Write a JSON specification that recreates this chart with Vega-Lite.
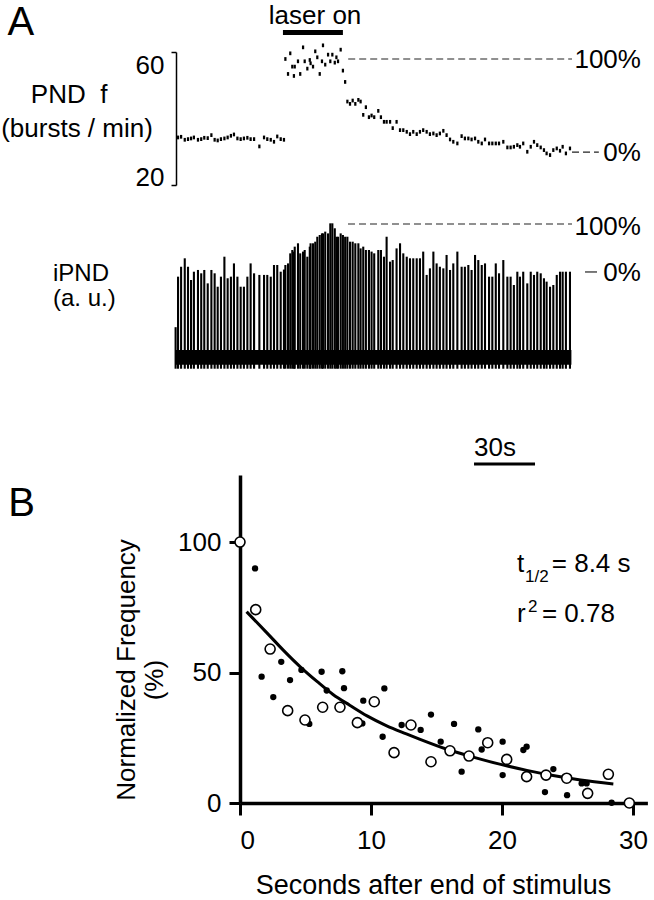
{
  "$schema": "https://vega.github.io/schema/vega-lite/v6.json",
  "width": 654,
  "height": 900,
  "autosize": {"type": "none"},
  "padding": 0,
  "background": "white",
  "config": {
    "view": {"stroke": null},
    "font": "Liberation Sans",
    "text": {"font": "Liberation Sans", "fontSize": 26, "color": "black"},
    "axis": {"grid": false, "labelFont": "Liberation Sans", "domainColor": "black", "tickColor": "black", "labelColor": "black"}
  },
  "datasets": {
    "bursts": [
      {"t": 0.3, "f": null, "amp": 23},
      {"t": 1.5, "f": 34.3, "amp": 60.7}, {"t": 3.0, "f": 34.5, "amp": 68.1}, {"t": 4.8, "f": 33.6, "amp": 74.4},
      {"t": 6.4, "f": 33.8, "amp": 68.1}, {"t": 7.9, "f": 34.0, "amp": 58.2}, {"t": 9.3, "f": 34.3, "amp": 64.4},
      {"t": 11.3, "f": 33.6, "amp": 65.7}, {"t": 12.9, "f": 33.8, "amp": 63.2}, {"t": 14.4, "f": 34.2, "amp": 65.7},
      {"t": 16.1, "f": 34.1, "amp": 55.7}, {"t": 17.9, "f": 35.0, "amp": 65.7}, {"t": 19.5, "f": 33.6, "amp": 63.2},
      {"t": 21.0, "f": 33.4, "amp": 53.2}, {"t": 22.6, "f": 33.8, "amp": 60.7}, {"t": 24.3, "f": 34.0, "amp": 75.6},
      {"t": 25.9, "f": 34.3, "amp": 59.5}, {"t": 27.5, "f": 34.8, "amp": 60.7}, {"t": 29.0, "f": 35.2, "amp": 70.6},
      {"t": 30.7, "f": 34.0, "amp": 60.7}, {"t": 32.3, "f": 33.8, "amp": 53.2}, {"t": 33.9, "f": 34.0, "amp": 53.2},
      {"t": 35.6, "f": 34.2, "amp": 60.7}, {"t": 37.2, "f": 33.8, "amp": 70.6}, {"t": 38.9, "f": 33.8, "amp": 63.2},
      {"t": 41.5, "f": 31.6, "amp": 62.0}, {"t": 43.8, "f": 34.3, "amp": 62.0}, {"t": 45.4, "f": 33.8, "amp": 62.0},
      {"t": 47.1, "f": 33.6, "amp": 60.7}, {"t": 48.7, "f": 33.0, "amp": 69.4}, {"t": 50.3, "f": 34.6, "amp": 69.4},
      {"t": 52.0, "f": 33.8, "amp": 64.4}, {"t": 53.6, "f": 33.6, "amp": 66.0},
      {"t": 54.3, "f": 57.9, "amp": 69.4}, {"t": 55.6, "f": 53.4, "amp": 70.6}, {"t": 56.7, "f": 59.6, "amp": 78.1},
      {"t": 57.7, "f": 55.6, "amp": 80.6}, {"t": 58.5, "f": 52.8, "amp": 79.4}, {"t": 58.9, "f": 55.6, "amp": 83.1},
      {"t": 60.5, "f": 57.2, "amp": 85.6}, {"t": 61.6, "f": 53.4, "amp": 78.1}, {"t": 63.0, "f": 61.4, "amp": 79.4},
      {"t": 63.8, "f": 57.2, "amp": 80.6}, {"t": 65.1, "f": 55.0, "amp": 75.6}, {"t": 66.3, "f": 57.6, "amp": 83.1},
      {"t": 66.7, "f": 56.6, "amp": 85.6}, {"t": 67.9, "f": 55.6, "amp": 85.6}, {"t": 69.0, "f": 60.2, "amp": 86.8},
      {"t": 70.0, "f": 58.4, "amp": 90.5}, {"t": 71.2, "f": 53.4, "amp": 91.8}, {"t": 72.3, "f": 57.2, "amp": 93.0},
      {"t": 72.8, "f": 62.0, "amp": 93.0}, {"t": 73.9, "f": 56.2, "amp": 94.3}, {"t": 75.3, "f": 59.2, "amp": 93.0},
      {"t": 76.4, "f": 57.2, "amp": 100.5}, {"t": 77.4, "f": 59.2, "amp": 100.5}, {"t": 78.6, "f": 56.8, "amp": 96.8},
      {"t": 79.4, "f": 58.4, "amp": 90.5}, {"t": 80.2, "f": 57.2, "amp": 90.5}, {"t": 81.5, "f": 60.7, "amp": 93.0},
      {"t": 82.6, "f": 54.4, "amp": 91.8}, {"t": 83.7, "f": 51.0, "amp": 90.5},
      {"t": 84.8, "f": 45.1, "amp": 90.5}, {"t": 86.1, "f": 44.4, "amp": 86.8}, {"t": 87.4, "f": 45.4, "amp": 86.8},
      {"t": 88.7, "f": 44.4, "amp": 85.6}, {"t": 90.2, "f": 45.6, "amp": 85.6}, {"t": 91.3, "f": 45.1, "amp": 81.8},
      {"t": 92.6, "f": 41.1, "amp": 83.1}, {"t": 93.9, "f": 43.4, "amp": 80.6}, {"t": 95.4, "f": 40.4, "amp": 80.6},
      {"t": 96.7, "f": 40.9, "amp": 79.4}, {"t": 98.0, "f": 40.4, "amp": 78.1}, {"t": 100.0, "f": 42.3, "amp": 80.6},
      {"t": 101.3, "f": 40.4, "amp": 80.6}, {"t": 102.8, "f": 39.0, "amp": 75.6}, {"t": 104.1, "f": 39.0, "amp": 90.5},
      {"t": 105.8, "f": 39.0, "amp": 71.9}, {"t": 107.1, "f": 37.1, "amp": 73.1}, {"t": 109.0, "f": 39.0, "amp": 81.8},
      {"t": 110.7, "f": 36.5, "amp": 85.6}, {"t": 112.3, "f": 36.5, "amp": 78.1}, {"t": 114.0, "f": 36.0, "amp": 75.6},
      {"t": 115.6, "f": 35.3, "amp": 74.4}, {"t": 117.2, "f": 36.0, "amp": 74.4}, {"t": 118.9, "f": 35.3, "amp": 74.4},
      {"t": 120.5, "f": 36.0, "amp": 74.4}, {"t": 122.1, "f": 36.5, "amp": 79.4}, {"t": 123.8, "f": 36.0, "amp": 62.0},
      {"t": 125.4, "f": 35.3, "amp": 66.9}, {"t": 127.1, "f": 35.5, "amp": 79.4}, {"t": 128.7, "f": 35.0, "amp": 70.6},
      {"t": 130.3, "f": 35.5, "amp": 68.1}, {"t": 132.0, "f": 36.3, "amp": 66.9}, {"t": 133.6, "f": 35.0, "amp": 76.9},
      {"t": 135.3, "f": 33.7, "amp": 65.7}, {"t": 136.9, "f": 33.0, "amp": 70.6}, {"t": 138.9, "f": 32.5, "amp": 79.4},
      {"t": 141.0, "f": 34.7, "amp": 68.1}, {"t": 142.6, "f": 34.0, "amp": 68.1}, {"t": 144.3, "f": 34.0, "amp": 69.4},
      {"t": 145.9, "f": 33.7, "amp": 65.7}, {"t": 147.6, "f": 34.0, "amp": 76.9}, {"t": 149.2, "f": 33.0, "amp": 73.1},
      {"t": 150.9, "f": 32.5, "amp": 69.4}, {"t": 152.5, "f": 33.7, "amp": 70.6}, {"t": 154.5, "f": 32.5, "amp": 60.7},
      {"t": 156.1, "f": 32.5, "amp": 60.7}, {"t": 157.8, "f": 32.5, "amp": 70.6}, {"t": 159.4, "f": 32.5, "amp": 63.2},
      {"t": 161.5, "f": 33.0, "amp": 73.1}, {"t": 163.5, "f": 31.3, "amp": 60.7}, {"t": 165.1, "f": 31.3, "amp": 60.7},
      {"t": 166.7, "f": 31.5, "amp": 54.5}, {"t": 168.4, "f": 32.0, "amp": 64.4}, {"t": 169.7, "f": 31.5, "amp": 60.7},
      {"t": 171.3, "f": 32.5, "amp": 64.4}, {"t": 173.3, "f": 30.0, "amp": 55.7}, {"t": 175.0, "f": 31.5, "amp": 64.4},
      {"t": 176.6, "f": 33.0, "amp": 62.0}, {"t": 178.2, "f": 32.0, "amp": 64.4}, {"t": 179.9, "f": 31.3, "amp": 63.2},
      {"t": 181.5, "f": 30.5, "amp": 59.5}, {"t": 182.8, "f": 29.5, "amp": 57.0}, {"t": 184.5, "f": 29.0, "amp": 53.2},
      {"t": 186.1, "f": 30.5, "amp": 54.5}, {"t": 187.8, "f": 31.0, "amp": 62.0}, {"t": 189.4, "f": 30.3, "amp": 64.4},
      {"t": 190.7, "f": 31.5, "amp": 64.4}, {"t": 192.3, "f": 29.5, "amp": 64.4}, {"t": 194.3, "f": 31.0, "amp": 64.4}
    ],
    "decay": [
      {"t": 0, "v": 100, "set": "open"}, {"t": 1.2, "v": 74.1, "set": "open"}, {"t": 2.3, "v": 59.0, "set": "open"},
      {"t": 3.64, "v": 35.4, "set": "open"}, {"t": 4.96, "v": 31.8, "set": "open"}, {"t": 6.31, "v": 36.7, "set": "open"},
      {"t": 7.63, "v": 36.7, "set": "open"}, {"t": 8.96, "v": 30.8, "set": "open"}, {"t": 10.25, "v": 38.8, "set": "open"},
      {"t": 11.76, "v": 19.3, "set": "open"}, {"t": 13.05, "v": 29.9, "set": "open"}, {"t": 14.58, "v": 15.8, "set": "open"},
      {"t": 16.03, "v": 20.0, "set": "open"}, {"t": 17.48, "v": 18.0, "set": "open"}, {"t": 18.91, "v": 23.1, "set": "open"},
      {"t": 20.36, "v": 16.7, "set": "open"}, {"t": 21.88, "v": 10.1, "set": "open"}, {"t": 23.36, "v": 10.7, "set": "open"},
      {"t": 24.94, "v": 9.5, "set": "open"}, {"t": 26.54, "v": 3.7, "set": "open"}, {"t": 28.12, "v": 11.0, "set": "open"},
      {"t": 29.72, "v": 0, "set": "open"},
      {"t": 1.15, "v": 89.9, "set": "filled"}, {"t": 1.65, "v": 48.4, "set": "filled"}, {"t": 2.54, "v": 40.6, "set": "filled"},
      {"t": 3.15, "v": 54.1, "set": "filled"}, {"t": 3.82, "v": 47.1, "set": "filled"}, {"t": 4.69, "v": 51.0, "set": "filled"},
      {"t": 5.29, "v": 30.3, "set": "filled"}, {"t": 6.23, "v": 50.3, "set": "filled"}, {"t": 6.62, "v": 43.1, "set": "filled"},
      {"t": 7.81, "v": 50.5, "set": "filled"}, {"t": 7.94, "v": 44.0, "set": "filled"}, {"t": 9.41, "v": 39.2, "set": "filled"},
      {"t": 9.34, "v": 30.5, "set": "filled"}, {"t": 10.89, "v": 25.4, "set": "filled"}, {"t": 11.02, "v": 43.9, "set": "filled"},
      {"t": 12.34, "v": 29.9, "set": "filled"}, {"t": 13.79, "v": 28.0, "set": "filled"}, {"t": 14.58, "v": 33.9, "set": "filled"},
      {"t": 15.32, "v": 23.5, "set": "filled"}, {"t": 16.34, "v": 30.3, "set": "filled"}, {"t": 16.92, "v": 12.0, "set": "filled"},
      {"t": 18.19, "v": 28.2, "set": "filled"}, {"t": 18.45, "v": 20.5, "set": "filled"}, {"t": 20.05, "v": 23.5, "set": "filled"},
      {"t": 20.05, "v": 10.7, "set": "filled"}, {"t": 21.63, "v": 20.3, "set": "filled"}, {"t": 21.88, "v": 21.6, "set": "filled"},
      {"t": 23.28, "v": 4.2, "set": "filled"}, {"t": 23.92, "v": 13.0, "set": "filled"}, {"t": 24.97, "v": 3.0, "set": "filled"},
      {"t": 26.08, "v": 7.5, "set": "filled"}, {"t": 26.46, "v": 7.5, "set": "filled"}, {"t": 28.37, "v": 0.1, "set": "filled"}
    ],
    "fit": [
      {"t": 0.5, "v": 73.3}, {"t": 2.0, "v": 65.5}, {"t": 3.3, "v": 58.6}, {"t": 4.6, "v": 52.2}, {"t": 5.9, "v": 46.5},
      {"t": 7.1, "v": 41.6}, {"t": 8.4, "v": 37.4}, {"t": 9.7, "v": 33.4}, {"t": 11.2, "v": 29.6}, {"t": 12.7, "v": 26.5},
      {"t": 13.7, "v": 24.5}, {"t": 15.8, "v": 20.6}, {"t": 17.8, "v": 17.6}, {"t": 19.9, "v": 14.8}, {"t": 21.9, "v": 12.5},
      {"t": 23.9, "v": 10.5}, {"t": 26.0, "v": 8.8}, {"t": 28.5, "v": 7.3}
    ]
  },
  "resolve": {"scale": {"x": "independent", "y": "independent"}, "axis": {"x": "independent", "y": "independent"}},
  "layer": [
    {
      "data": {"values": [{"label": "laser on"}]},
      "mark": {"type": "rule", "strokeWidth": 5, "color": "black"},
      "encoding": {
        "x": {"datum": 53.1, "type": "quantitative", "scale": {"domain": [0, 195], "range": [175, 571.4], "nice": false, "zero": false}, "axis": null},
        "x2": {"datum": 82.6},
        "y": {"datum": 65.9, "type": "quantitative", "scale": {"domain": [20, 60], "range": [185, 52], "nice": false, "zero": false}, "axis": null}
      }
    },
    {
      "data": {"values": [{"label": "laser on"}]},
      "mark": {"type": "text", "align": "center", "baseline": "alphabetic"},
      "encoding": {
        "x": {"datum": 68.9, "type": "quantitative", "scale": {"domain": [0, 195], "range": [175, 571.4], "nice": false, "zero": false}, "axis": null},
        "y": {"datum": 68.4, "type": "quantitative", "scale": {"domain": [20, 60], "range": [185, 52], "nice": false, "zero": false}, "axis": null},
        "text": {"field": "label"}
      }
    },
    {
      "data": {"name": "bursts"},
      "mark": {"type": "point", "shape": "M-0.6,-1H0.6V1H-0.6Z", "size": 14, "filled": true, "color": "black", "opacity": 1},
      "encoding": {
        "x": {"field": "t", "type": "quantitative", "scale": {"domain": [0, 195], "range": [175, 571.4], "nice": false, "zero": false}, "axis": null},
        "y": {"field": "f", "type": "quantitative", "scale": {"domain": [20, 60], "range": [185, 52], "nice": false, "zero": false},
          "axis": {"orient": "left", "offset": -176, "values": [20, 60], "title": null, "tickSize": 5, "tickWidth": 1.5, "domainWidth": 1.5,
            "labelFontSize": 26, "labelPadding": 7, "labelBaseline": {"condition": {"test": "datum.value == 60", "value": "top"}, "value": "alphabetic"}}}
      }
    },
    {
      "data": {"values": [{"level": "100%"}]},
      "mark": {"type": "rule", "strokeWidth": 1.2, "color": "#222", "strokeDash": [7, 4]},
      "encoding": {
        "x": {"datum": 85.2, "type": "quantitative", "scale": {"domain": [0, 195], "range": [175, 571.4], "nice": false, "zero": false}, "axis": null},
        "x2": {"datum": 195.3},
        "y": {"datum": 57.9, "type": "quantitative", "scale": {"domain": [20, 60], "range": [185, 52], "nice": false, "zero": false}, "axis": null}
      }
    },
    {
      "data": {"values": [{"level": "0%"}]},
      "mark": {"type": "rule", "strokeWidth": 1.2, "color": "#222", "strokeDash": [7, 4]},
      "encoding": {
        "x": {"datum": 195.3, "type": "quantitative", "scale": {"domain": [0, 195], "range": [175, 571.4], "nice": false, "zero": false}, "axis": null},
        "x2": {"datum": 208.5},
        "y": {"datum": 29.9, "type": "quantitative", "scale": {"domain": [20, 60], "range": [185, 52], "nice": false, "zero": false}, "axis": null}
      }
    },
    {
      "data": {"values": [{"label": "100%", "f": 57.6}, {"label": "0%", "f": 29.6}]},
      "mark": {"type": "text", "align": "right", "baseline": "middle"},
      "encoding": {
        "x": {"datum": 229.2, "type": "quantitative", "scale": {"domain": [0, 195], "range": [175, 571.4], "nice": false, "zero": false}, "axis": null},
        "y": {"field": "f", "type": "quantitative", "scale": {"domain": [20, 60], "range": [185, 52], "nice": false, "zero": false}, "axis": null},
        "text": {"field": "label"}
      }
    },
    {
      "data": {"values": [{"label": "PND\u00a0\u00a0f"}]},
      "mark": {"type": "text", "align": "center", "baseline": "alphabetic"},
      "encoding": {
        "x": {"datum": -52.1, "type": "quantitative", "scale": {"domain": [0, 195], "range": [175, 571.4], "nice": false, "zero": false}, "axis": null},
        "y": {"datum": 44.7, "type": "quantitative", "scale": {"domain": [20, 60], "range": [185, 52], "nice": false, "zero": false}, "axis": null},
        "text": {"field": "label"}
      }
    },
    {
      "data": {"values": [{"label": "(bursts / min)"}]},
      "mark": {"type": "text", "align": "center", "baseline": "alphabetic"},
      "encoding": {
        "x": {"datum": -48.2, "type": "quantitative", "scale": {"domain": [0, 195], "range": [175, 571.4], "nice": false, "zero": false}, "axis": null},
        "y": {"datum": 34.3, "type": "quantitative", "scale": {"domain": [20, 60], "range": [185, 52], "nice": false, "zero": false}, "axis": null},
        "text": {"field": "label"}
      }
    },
    {
      "data": {"values": [{"label": "A"}]},
      "mark": {"type": "text", "align": "left", "baseline": "alphabetic", "fontSize": 40},
      "encoding": {
        "x": {"datum": -82.4, "type": "quantitative", "scale": {"domain": [0, 195], "range": [175, 571.4], "nice": false, "zero": false}, "axis": null},
        "y": {"datum": 65.0, "type": "quantitative", "scale": {"domain": [20, 60], "range": [185, 52], "nice": false, "zero": false}, "axis": null},
        "text": {"field": "label"}
      }
    },
    {
      "data": {"values": [{"label": "noise"}]},
      "mark": {"type": "rect", "color": "black"},
      "encoding": {
        "x": {"datum": 0, "type": "quantitative", "scale": {"domain": [0, 195], "range": [175, 571.4], "nice": false, "zero": false}, "axis": null},
        "x2": {"datum": 195},
        "y": {"datum": -5, "type": "quantitative", "scale": {"domain": [0, 100], "range": [358, 224], "nice": false, "zero": false}, "axis": null},
        "y2": {"datum": 6}
      }
    },
    {
      "data": {"name": "bursts"},
      "mark": {"type": "rule", "strokeWidth": 2.1, "color": "black"},
      "encoding": {
        "x": {"field": "t", "type": "quantitative", "scale": {"domain": [0, 195], "range": [175, 571.4], "nice": false, "zero": false}, "axis": null},
        "y": {"field": "amp", "type": "quantitative", "scale": {"domain": [0, 100], "range": [358, 224], "nice": false, "zero": false}, "axis": null},
        "y2": {"datum": -8}
      }
    },
    {
      "data": {"values": [{"level": "100%"}]},
      "mark": {"type": "rule", "strokeWidth": 1.2, "color": "#222", "strokeDash": [7, 4]},
      "encoding": {
        "x": {"datum": 85.1, "type": "quantitative", "scale": {"domain": [0, 195], "range": [175, 571.4], "nice": false, "zero": false}, "axis": null},
        "x2": {"datum": 195.3},
        "y": {"datum": 100, "type": "quantitative", "scale": {"domain": [0, 100], "range": [358, 224], "nice": false, "zero": false}, "axis": null}
      }
    },
    {
      "data": {"values": [{"level": "0%"}]},
      "mark": {"type": "rule", "strokeWidth": 1.2, "color": "#222"},
      "encoding": {
        "x": {"datum": 201.7, "type": "quantitative", "scale": {"domain": [0, 195], "range": [175, 571.4], "nice": false, "zero": false}, "axis": null},
        "x2": {"datum": 207.6},
        "y": {"datum": 64.2, "type": "quantitative", "scale": {"domain": [0, 100], "range": [358, 224], "nice": false, "zero": false}, "axis": null}
      }
    },
    {
      "data": {"values": [{"label": "100%", "amp": 98.1}, {"label": "0%", "amp": 63.8}]},
      "mark": {"type": "text", "align": "right", "baseline": "middle"},
      "encoding": {
        "x": {"datum": 229.2, "type": "quantitative", "scale": {"domain": [0, 195], "range": [175, 571.4], "nice": false, "zero": false}, "axis": null},
        "y": {"field": "amp", "type": "quantitative", "scale": {"domain": [0, 100], "range": [358, 224], "nice": false, "zero": false}, "axis": null},
        "text": {"field": "label"}
      }
    },
    {
      "data": {"values": [{"label": "iPND"}]},
      "mark": {"type": "text", "align": "left", "baseline": "alphabetic", "fontSize": 24},
      "encoding": {
        "x": {"datum": -60.0, "type": "quantitative", "scale": {"domain": [0, 195], "range": [175, 571.4], "nice": false, "zero": false}, "axis": null},
        "y": {"datum": 57.5, "type": "quantitative", "scale": {"domain": [0, 100], "range": [358, 224], "nice": false, "zero": false}, "axis": null},
        "text": {"field": "label"}
      }
    },
    {
      "data": {"values": [{"label": "(a. u.)"}]},
      "mark": {"type": "text", "align": "left", "baseline": "alphabetic", "fontSize": 24},
      "encoding": {
        "x": {"datum": -60.0, "type": "quantitative", "scale": {"domain": [0, 195], "range": [175, 571.4], "nice": false, "zero": false}, "axis": null},
        "y": {"datum": 38.8, "type": "quantitative", "scale": {"domain": [0, 100], "range": [358, 224], "nice": false, "zero": false}, "axis": null},
        "text": {"field": "label"}
      }
    },
    {
      "data": {"values": [{"label": "30s"}]},
      "mark": {"type": "rule", "strokeWidth": 3, "color": "black"},
      "encoding": {
        "x": {"datum": 147.1, "type": "quantitative", "scale": {"domain": [0, 195], "range": [175, 571.4], "nice": false, "zero": false}, "axis": null},
        "x2": {"datum": 177.1},
        "y": {"datum": -79.1, "type": "quantitative", "scale": {"domain": [0, 100], "range": [358, 224], "nice": false, "zero": false}, "axis": null}
      }
    },
    {
      "data": {"values": [{"label": "30s"}]},
      "mark": {"type": "text", "align": "left", "baseline": "alphabetic"},
      "encoding": {
        "x": {"datum": 147.1, "type": "quantitative", "scale": {"domain": [0, 195], "range": [175, 571.4], "nice": false, "zero": false}, "axis": null},
        "y": {"datum": -73.1, "type": "quantitative", "scale": {"domain": [0, 100], "range": [358, 224], "nice": false, "zero": false}, "axis": null},
        "text": {"field": "label"}
      }
    },
    {
      "data": {"name": "fit"},
      "mark": {"type": "line", "strokeWidth": 3, "color": "black", "interpolate": "monotone"},
      "encoding": {
        "x": {"field": "t", "type": "quantitative", "scale": {"domain": [0, 31.1], "range": [240, 647.4], "nice": false, "zero": false}, "axis": null},
        "y": {"field": "v", "type": "quantitative", "scale": {"domain": [0, 125.7], "range": [803, 475], "nice": false, "zero": false}, "axis": null}
      }
    },
    {
      "data": {"name": "decay"},
      "transform": [{"filter": "datum.set == 'filled'"}],
      "mark": {"type": "point", "shape": "circle", "size": 40, "filled": true, "color": "black", "opacity": 1},
      "encoding": {
        "x": {"field": "t", "type": "quantitative", "scale": {"domain": [0, 31.1], "range": [240, 647.4], "nice": false, "zero": false}, "axis": null},
        "y": {"field": "v", "type": "quantitative", "scale": {"domain": [0, 125.7], "range": [803, 475], "nice": false, "zero": false}, "axis": null}
      }
    },
    {
      "data": {"name": "decay"},
      "transform": [{"filter": "datum.set == 'open'"}],
      "mark": {"type": "point", "shape": "circle", "size": 100, "filled": true, "fill": "white", "stroke": "black", "strokeWidth": 1.6, "opacity": 1},
      "encoding": {
        "x": {"field": "t", "type": "quantitative", "scale": {"domain": [0, 31.1], "range": [240, 647.4], "nice": false, "zero": false},
          "axis": {"orient": "bottom", "offset": -97, "values": [0, 10, 20, 30], "format": "d", "title": null, "tickSize": 12, "tickWidth": 3, "domainWidth": 3.5, "labelFontSize": 26, "labelPadding": 12}},
        "y": {"field": "v", "type": "quantitative", "scale": {"domain": [0, 125.7], "range": [803, 475], "nice": false, "zero": false},
          "axis": {"orient": "left", "offset": -240, "values": [0, 50, 100], "format": "d", "title": null, "tickSize": 11, "tickWidth": 3, "domainWidth": 3.5, "labelFontSize": 26, "labelPadding": 8}}
      }
    },
    {
      "data": {"values": [{"label": "t"}]},
      "mark": {"type": "text", "align": "left", "baseline": "alphabetic"},
      "encoding": {
        "x": {"datum": 21.15, "type": "quantitative", "scale": {"domain": [0, 31.1], "range": [240, 647.4], "nice": false, "zero": false}, "axis": null},
        "y": {"datum": 88.5, "type": "quantitative", "scale": {"domain": [0, 125.7], "range": [803, 475], "nice": false, "zero": false}, "axis": null},
        "text": {"field": "label"}
      }
    },
    {
      "data": {"values": [{"label": "1/2"}]},
      "mark": {"type": "text", "align": "left", "baseline": "alphabetic", "fontSize": 17},
      "encoding": {
        "x": {"datum": 21.76, "type": "quantitative", "scale": {"domain": [0, 31.1], "range": [240, 647.4], "nice": false, "zero": false}, "axis": null},
        "y": {"datum": 84.7, "type": "quantitative", "scale": {"domain": [0, 125.7], "range": [803, 475], "nice": false, "zero": false}, "axis": null},
        "text": {"field": "label"}
      }
    },
    {
      "data": {"values": [{"label": "= 8.4 s"}]},
      "mark": {"type": "text", "align": "left", "baseline": "alphabetic"},
      "encoding": {
        "x": {"datum": 23.8, "type": "quantitative", "scale": {"domain": [0, 31.1], "range": [240, 647.4], "nice": false, "zero": false}, "axis": null},
        "y": {"datum": 88.5, "type": "quantitative", "scale": {"domain": [0, 125.7], "range": [803, 475], "nice": false, "zero": false}, "axis": null},
        "text": {"field": "label"}
      }
    },
    {
      "data": {"values": [{"label": "r"}]},
      "mark": {"type": "text", "align": "left", "baseline": "alphabetic"},
      "encoding": {
        "x": {"datum": 21.15, "type": "quantitative", "scale": {"domain": [0, 31.1], "range": [240, 647.4], "nice": false, "zero": false}, "axis": null},
        "y": {"datum": 69.3, "type": "quantitative", "scale": {"domain": [0, 125.7], "range": [803, 475], "nice": false, "zero": false}, "axis": null},
        "text": {"field": "label"}
      }
    },
    {
      "data": {"values": [{"label": "2"}]},
      "mark": {"type": "text", "align": "left", "baseline": "alphabetic", "fontSize": 17},
      "encoding": {
        "x": {"datum": 21.98, "type": "quantitative", "scale": {"domain": [0, 31.1], "range": [240, 647.4], "nice": false, "zero": false}, "axis": null},
        "y": {"datum": 73.2, "type": "quantitative", "scale": {"domain": [0, 125.7], "range": [803, 475], "nice": false, "zero": false}, "axis": null},
        "text": {"field": "label"}
      }
    },
    {
      "data": {"values": [{"label": "= 0.78"}]},
      "mark": {"type": "text", "align": "left", "baseline": "alphabetic"},
      "encoding": {
        "x": {"datum": 23.05, "type": "quantitative", "scale": {"domain": [0, 31.1], "range": [240, 647.4], "nice": false, "zero": false}, "axis": null},
        "y": {"datum": 69.3, "type": "quantitative", "scale": {"domain": [0, 125.7], "range": [803, 475], "nice": false, "zero": false}, "axis": null},
        "text": {"field": "label"}
      }
    },
    {
      "data": {"values": [{"label": "Normalized Frequency"}]},
      "mark": {"type": "text", "align": "center", "baseline": "middle", "angle": 270},
      "encoding": {
        "x": {"datum": -8.63, "type": "quantitative", "scale": {"domain": [0, 31.1], "range": [240, 647.4], "nice": false, "zero": false}, "axis": null},
        "y": {"datum": 51.0, "type": "quantitative", "scale": {"domain": [0, 125.7], "range": [803, 475], "nice": false, "zero": false}, "axis": null},
        "text": {"field": "label"}
      }
    },
    {
      "data": {"values": [{"label": "(%)"}]},
      "mark": {"type": "text", "align": "center", "baseline": "middle", "angle": 270},
      "encoding": {
        "x": {"datum": -6.49, "type": "quantitative", "scale": {"domain": [0, 31.1], "range": [240, 647.4], "nice": false, "zero": false}, "axis": null},
        "y": {"datum": 47.1, "type": "quantitative", "scale": {"domain": [0, 125.7], "range": [803, 475], "nice": false, "zero": false}, "axis": null},
        "text": {"field": "label"}
      }
    },
    {
      "data": {"values": [{"label": "Seconds after end of stimulus"}]},
      "mark": {"type": "text", "align": "center", "baseline": "alphabetic", "fontSize": 27},
      "encoding": {
        "x": {"datum": 14.77, "type": "quantitative", "scale": {"domain": [0, 31.1], "range": [240, 647.4], "nice": false, "zero": false}, "axis": null},
        "y": {"datum": -34.8, "type": "quantitative", "scale": {"domain": [0, 125.7], "range": [803, 475], "nice": false, "zero": false}, "axis": null},
        "text": {"field": "label"}
      }
    },
    {
      "data": {"values": [{"label": "B"}]},
      "mark": {"type": "text", "align": "left", "baseline": "alphabetic", "fontSize": 40},
      "encoding": {
        "x": {"datum": -17.7, "type": "quantitative", "scale": {"domain": [0, 31.1], "range": [240, 647.4], "nice": false, "zero": false}, "axis": null},
        "y": {"datum": 110.0, "type": "quantitative", "scale": {"domain": [0, 125.7], "range": [803, 475], "nice": false, "zero": false}, "axis": null},
        "text": {"field": "label"}
      }
    }
  ]
}
